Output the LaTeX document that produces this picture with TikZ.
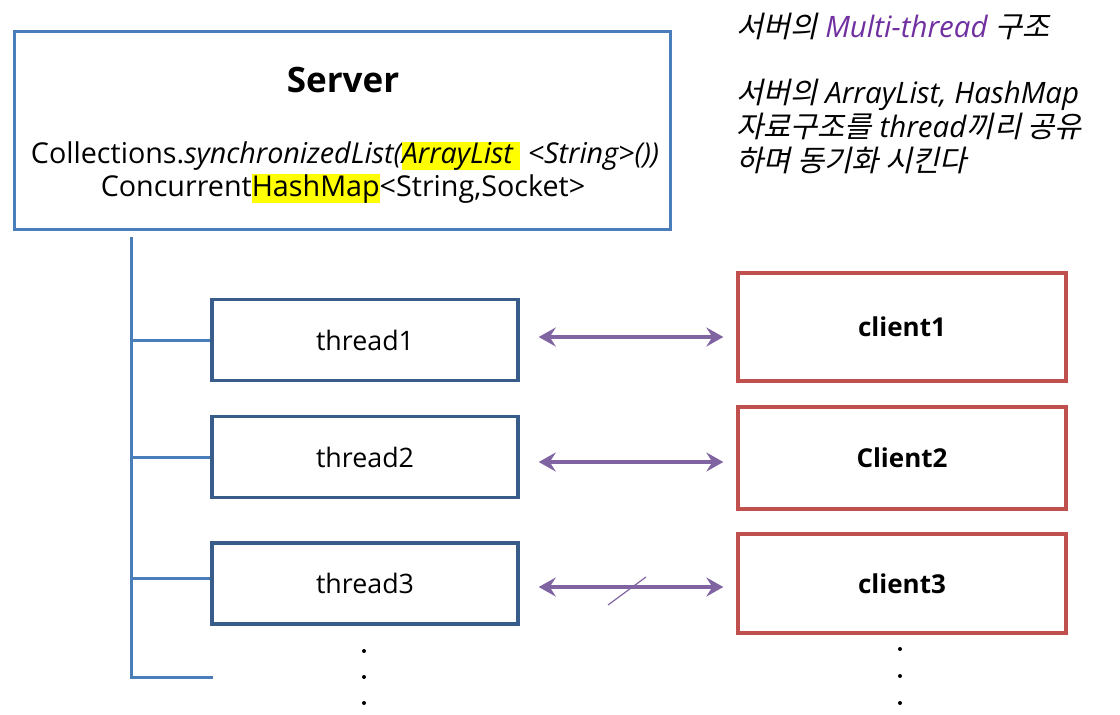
\documentclass[tikz,border=0pt]{standalone}
\usepackage{fontspec}
\setmainfont{Open Sans}
\newfontfamily\kr[FakeSlant=0.22]{Noto Sans CJK KR}
\usetikzlibrary{arrows.meta,calc}
\definecolor{srvblue}{HTML}{4A7EBB}
\definecolor{thrblue}{HTML}{385D8A}
\definecolor{clired}{HTML}{C0504D}
\definecolor{arrpurple}{HTML}{8064A2}
\definecolor{txtpurple}{HTML}{7030A0}
\definecolor{hlyel}{HTML}{FFFF00}
\newcommand\hlbox[1]{{\setlength\fboxsep{0pt}\colorbox{hlyel}{\rule[-0.25em]{0pt}{0.98em}#1}}}
\tikzset{
  srvbox/.style={draw=srvblue,line width=3pt,minimum width=656pt,minimum height=198pt,inner sep=0pt},
  thrbox/.style={draw=thrblue,line width=3.5pt,minimum width=306pt,minimum height=81pt,inner sep=0pt,font=\fontsize{26.8}{30}\selectfont},
  clibox/.style={draw=clired,line width=3.3pt,minimum width=328pt,inner sep=0pt,font=\fontsize{26}{30}\selectfont\bfseries},
  tree/.style={draw=srvblue,line width=3pt},
  dbl/.style={draw=arrpurple,line width=3.3pt,{Stealth[length=17pt,width=19pt,inset=6pt]}-{Stealth[length=17pt,width=19pt,inset=6pt]}},
  rtxt/.style={anchor=base west,inner sep=0pt,font=\fontsize{29.5}{34}\selectfont},
  dotc/.style={fill=black,circle,inner sep=0pt,minimum size=4pt}
}
\begin{document}
\begin{tikzpicture}[x=1pt,y=-1pt]
\useasboundingbox (0,0) rectangle (1120,715);
% server
\node[srvbox] (server) at (342,130) {};
\node[font=\fontsize{35}{40}\selectfont\bfseries] (srvtitle) at (343,80) {Server};
\node[font=\fontsize{28.7}{32}\selectfont,inner sep=0pt,anchor=base] (coll) at (345,163) {Collections.\textit{synchronizedList(\hlbox{ArrayList\ }\ {<}String{>}())}};
\node[font=\fontsize{28.7}{32}\selectfont,inner sep=0pt,anchor=base] (chm) at (343,196) {Concurrent\hlbox{HashMap}{<}String,Socket{>}};
% threads
\node[thrbox] (thread1) at (365,340) {thread1};
\node[thrbox] (thread2) at (365,457) {thread2};
\node[thrbox] (thread3) at (365,583.5) {thread3};
% clients
\node[clibox,minimum height=108pt] (client1) at (902,327) {client1};
\node[clibox,minimum height=102pt] (client2) at (902,458) {Client2};
\node[clibox,minimum height=99pt] (client3) at (902,583.5) {client3};
% tree
\coordinate (top) at (131,237);
\coordinate (bot) at (131,677);
\coordinate (botend) at (213,677);
\coordinate (b3) at (131,578);
\draw[tree] (top) -- (bot) -- (botend);
\draw[tree] (top |- thread1.west) -- (thread1.west);
\draw[tree] (top |- thread2.west) -- (thread2.west);
\draw[tree] (b3) -- (b3 -| thread3.west);
% arrows
\draw[dbl,shorten <=19pt,shorten >=13pt] ($(thread1.east)+(0,-3)$) -- ($(client1.west |- thread1.east)+(0,-3)$);
\draw[dbl,shorten <=19pt,shorten >=13pt] ($(thread2.east)+(0,5)$) -- ($(client2.west |- thread2.east)+(0,5)$);
\draw[dbl,shorten <=19pt,shorten >=13pt] ($(thread3.east)+(0,3.5)$) -- ($(client3.west |- thread3.east)+(0,3.5)$);
\coordinate (s1) at (608,605);
\coordinate (s2) at (646,577);
\draw[arrpurple,line width=1.2pt] (s1) -- (s2);
% dots
\node[dotc] (ld1) at (364,651) {};
\node[dotc] (ld2) at (364,677) {};
\node[dotc] (ld3) at (364,703) {};
\node[dotc] (rd1) at (900,649) {};
\node[dotc] (rd2) at (900,676) {};
\node[dotc] (rd3) at (900,703) {};
% right text
\node[rtxt] (r1) at (736,37) {{\kr 서버의} \textcolor{txtpurple}{\itshape Multi-thread} {\kr 구조}};
\node[rtxt] (r2) at (736,103) {{\kr 서버의} \textit{ArrayList, HashMap}};
\node[rtxt] (r3) at (736,137) {{\kr 자료구조를} \textit{thread}{\kr 끼리 공유}};
\node[rtxt] (r4) at (736,171) {{\kr 하며 동기화 시킨다}};
\end{tikzpicture}
\end{document}
